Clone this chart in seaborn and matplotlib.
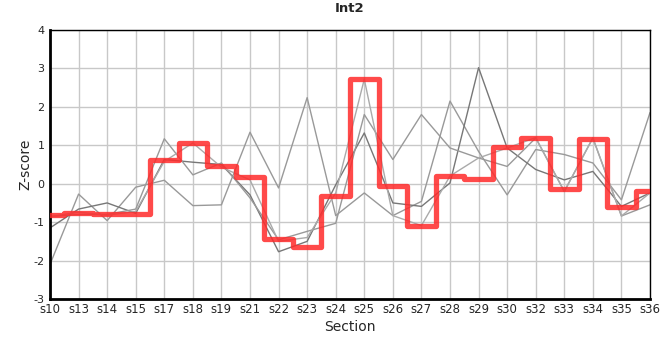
import matplotlib
matplotlib.use("Agg")
import matplotlib.pyplot as plt
import seaborn as sns
import numpy as np
import pandas as pd

sections = ["s10", "s13", "s14", "s15", "s17", "s18", "s19", "s21", "s22", "s23", "s24",
            "s25", "s26", "s27", "s28", "s29", "s30", "s32", "s33", "s34", "s35", "s36"]

# highlighted sample (drawn as steps)
int2 = [-0.82, -0.76, -0.79, -0.78, 0.62, 1.05, 0.47, 0.18, -1.43, -1.64, -0.31,
        2.73, -0.06, -1.10, 0.20, 0.12, 0.96, 1.20, -0.15, 1.17, -0.60, -0.18]

# other samples (grey background lines)
other1 = [-2.10, -0.27, -0.96, -0.09, 0.09, -0.57, -0.55, 1.34, -0.11, 2.24, -0.83,
          -0.24, -0.83, -0.46, 2.15, 0.84, -0.29, 0.89, 0.76, 0.54, -0.42, 1.85]
other2 = [-1.15, -0.66, -0.50, -0.77, 0.63, 0.56, 0.50, -0.29, -1.77, -1.50, -0.03,
          1.32, -0.50, -0.59, 0.02, 3.02, 0.93, 0.37, 0.10, 0.32, -0.59, -0.24]
other3 = [-0.85, -0.80, -0.80, -0.66, 1.17, 0.23, 0.54, -0.37, -1.46, -1.24, -1.03,
          1.80, 0.63, 1.80, 0.93, 0.67, 0.45, 1.19, -0.20, 1.19, -0.84, -0.55]
other4 = [-0.86, -0.74, -0.82, -0.72, 0.58, 1.06, 0.43, 0.10, -1.50, -1.40, -0.24,
          2.72, -0.83, -1.09, 0.20, 0.67, 0.93, 1.20, -0.20, 1.19, -0.84, -0.24]

sns.set_style("white")
plt.rcParams['font.family'] = ['DejaVu Sans']
plt.rcParams['axes.unicode_minus'] = False

x = np.arange(len(sections))
fig = plt.figure(figsize=(6.6, 3.6), dpi=100)
ax = fig.add_axes([50 / 660, 1 - 299 / 360, 600 / 660, 269 / 360])

greys = ["#999999", "#777777", "#999999", "#aaaaaa"]
for vals, c in zip([other1, other2, other3, other4], greys):
    df = pd.DataFrame({"x": x, "z": vals})
    sns.lineplot(data=df, x="x", y="z", ax=ax, color=c, linewidth=1.0, zorder=2)

df_main = pd.DataFrame({"x": x, "z": int2})
sns.lineplot(data=df_main, x="x", y="z", ax=ax, color="#ff2a2a", alpha=0.85,
             linewidth=3.8, drawstyle="steps-mid", solid_joinstyle="round",
             solid_capstyle="round", zorder=3)

ax.set_xlim(0, len(sections) - 1)
ax.set_ylim(-3, 4)
ax.set_xticks(x)
ax.set_xticklabels(sections, fontsize=8.5)
ax.set_yticks(range(-3, 5))
ax.tick_params(axis="y", labelsize=8, length=3, width=1, direction="out", pad=1)
ax.tick_params(axis="x", length=0, pad=3)
ax.grid(True, color="#c8c8c8", linewidth=1.0, zorder=0)
ax.set_axisbelow(True)

for side in ["top", "right"]:
    ax.spines[side].set_linewidth(1.0)
    ax.spines[side].set_color("black")
for side in ["left", "bottom"]:
    ax.spines[side].set_linewidth(2.0)
    ax.spines[side].set_color("black")

ax.set_xlabel("Section", fontsize=10, labelpad=3)
ax.set_ylabel("Z-score", fontsize=10, labelpad=1)
ax.set_title("Int2", fontsize=9.5, fontweight="bold", pad=13)

fig.savefig("out.png", dpi=100)
